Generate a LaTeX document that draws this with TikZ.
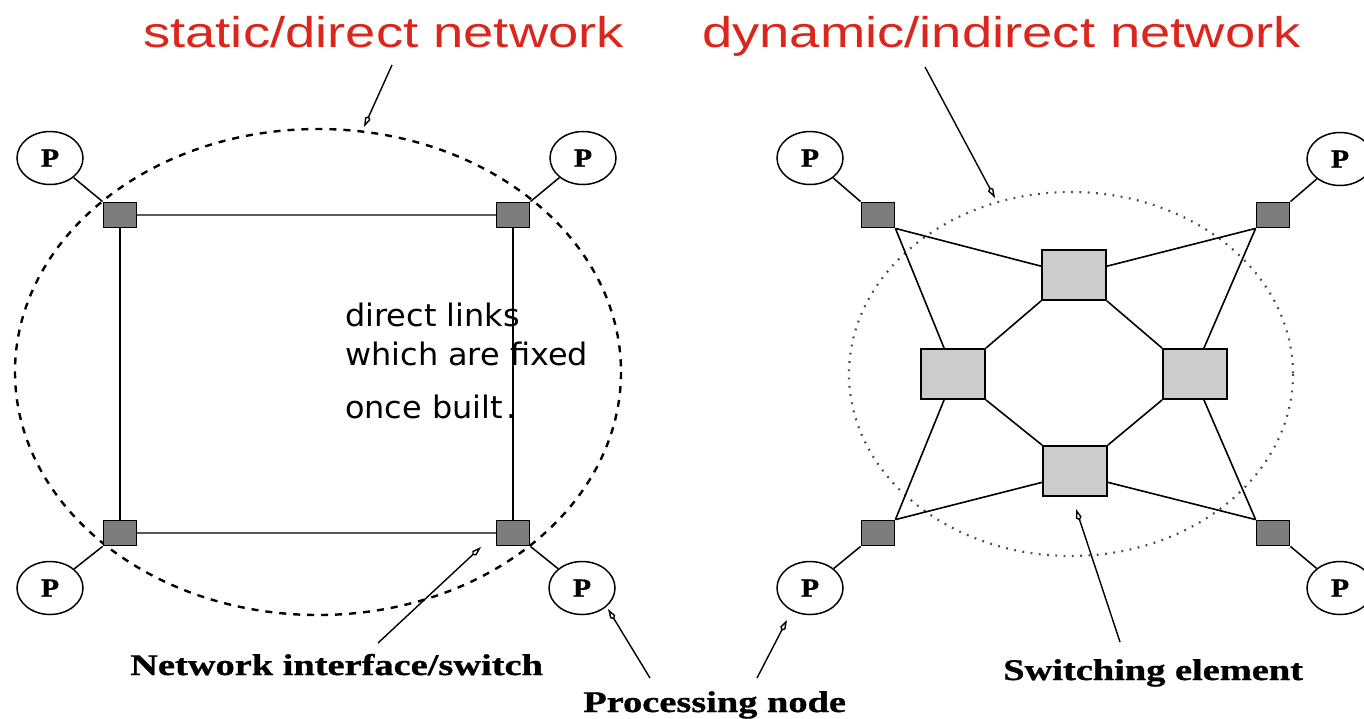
\documentclass[tikz,border=0pt]{standalone}
\usepackage{graphicx}
\usepackage{fontspec}
\setmainfont{Liberation Serif}
\newfontfamily\titlefont{Liberation Sans}
\newfontfamily\notefont{DejaVu Sans}
\newfontfamily\labelfont[FakeBold=0.8]{Liberation Serif Bold}
\usetikzlibrary{arrows.meta,shapes.geometric}
\definecolor{titlered}{RGB}{218,38,28}
\definecolor{swdark}{RGB}{125,125,125}
\definecolor{swlight}{RGB}{204,204,204}
\begin{document}
\begin{tikzpicture}[x=1pt,y=-1pt,
  pnode/.style={ellipse, draw, line width=1.5pt, minimum width=66pt, minimum height=53pt, inner sep=0pt, fill=white,
     font=\labelfont\fontsize{26}{26}\selectfont},
  swsmall/.style={draw, line width=1.8pt, fill=swdark, minimum width=33pt, minimum height=25pt, inner sep=0pt},
  swbig/.style={draw, line width=1.8pt, fill=swlight, minimum width=64pt, minimum height=50pt, inner sep=0pt},
  hlink/.style={line width=1.1pt, draw=black!65},
  vlink/.style={line width=1.5pt},
  link/.style={line width=1.6pt},
  plink/.style={line width=1.5pt},
  leader/.style={line width=1.4pt, -{Kite[open,length=12pt,width=6pt]}},
  titletext/.style={anchor=base west, text=titlered, font=\titlefont\fontsize{43}{43}\selectfont, xscale=1.265, inner sep=0pt},
  labeltext/.style={anchor=base west, font=\labelfont\fontsize{30}{30}\selectfont, xscale=1.28, inner sep=0pt},
  notetext/.style={anchor=base west, font=\notefont\fontsize{31}{31}\selectfont, xscale=1.03, inner sep=0pt},
  dashring/.style={line width=2.4pt, dash pattern=on 7pt off 7pt},
  dotring/.style={line width=2.2pt, draw=black!70, dash pattern=on 1.8pt off 6.5pt}
]
\useasboundingbox (0,0) rectangle (1364,718);

% ---------- rings ----------
\draw[dashring] (318,372) ellipse [x radius=303, y radius=243];
\draw[dotring] (1071,374) ellipse [x radius=222, y radius=182];

% ---------- titles ----------
\node[titletext] (tstatic) at (143,47) {static/direct network};
\node[titletext] (tdynamic) at (702,47) {dynamic/indirect network};

% ---------- left: static/direct network ----------
\node[swsmall] (aTL) at (120,215) {};
\node[swsmall] (aTR) at (513,215) {};
\node[swsmall] (aBL) at (120,533) {};
\node[swsmall] (aBR) at (513,533) {};
\node[pnode] (paTL) at (50,158) {\scalebox{1.15}[1]{P}};
\node[pnode] (paTR) at (583,158) {\scalebox{1.15}[1]{P}};
\node[pnode] (paBL) at (50,588) {\scalebox{1.15}[1]{P}};
\node[pnode] (paBR) at (582,588) {\scalebox{1.15}[1]{P}};

\draw[hlink] (aTL) -- (aTR);
\draw[hlink] (aBL) -- (aBR);
\draw[vlink] (aTL) -- (aBL);
\draw[vlink] (aTR) -- (aBR);
\draw[plink] (paTL) -- (aTL.north west);
\draw[plink] (paTR) -- (aTR.north east);
\draw[plink] (paBL) -- (aBL.south west);
\draw[plink] (paBR) -- (aBR.south east);

\node[notetext] (n1) at (345,326) {direct links};
\node[notetext] (n2) at (345,365) {which are fixed};
\node[notetext] (n3) at (345,418) {once built\kern3pt.};

% ---------- right: dynamic/indirect network ----------
\node[swsmall] (bTL) at (878,215) {};
\node[swsmall] (bTR) at (1273,215) {};
\node[swsmall] (bBL) at (878,533) {};
\node[swsmall] (bBR) at (1273,533) {};
\node[pnode] (pbTL) at (810,158) {\scalebox{1.15}[1]{P}};
\node[pnode] (pbTR) at (1340,159) {\scalebox{1.15}[1]{P}};
\node[pnode] (pbBL) at (810,588) {\scalebox{1.15}[1]{P}};
\node[pnode] (pbBR) at (1340,588) {\scalebox{1.15}[1]{P}};

\node[swbig] (eT) at (1074,275) {};
\node[swbig] (eL) at (953,374) {};
\node[swbig] (eR) at (1195,374) {};
\node[swbig] (eB) at (1075,471) {};

\draw[plink] (pbTL) -- (bTL.north west);
\draw[plink] (pbTR) -- (bTR.north east);
\draw[plink] (pbBL) -- (bBL.south west);
\draw[plink] (pbBR) -- (bBR.south east);

\draw[link] (bTL.south east) -- (eT.165);
\draw[link] (bTL.south east) -- (eL.109);
\draw[link] (bTR.south west) -- (eT.15);
\draw[link] (bTR.south west) -- (eR.71);
\draw[link] (bBL.north east) -- (eL.251);
\draw[link] (bBL.north east) -- (eB.199);
\draw[link] (bBR.north west) -- (eR.289);
\draw[link] (bBR.north west) -- (eB.341);
\draw[link] (eT.south west) -- (eL.north east);
\draw[link] (eT.south east) -- (eR.north west);
\draw[link] (eL.south east) -- (eB.north west);
\draw[link] (eR.south west) -- (eB.north east);

% ---------- labels ----------
\node[labeltext] (lnet) at (130,675) {Network interface/switch};
\node[labeltext] (lproc) at (583,712) {Processing node};
\node[labeltext] (lsw) at (1003,680) {Switching element};

% ---------- leaders ----------
\coordinate (tailS) at (392,65);
\coordinate (tipS) at (364,127);
\coordinate (tailD) at (925,67);
\coordinate (tipD) at (995,198);
\coordinate (tailN) at (378,643);
\coordinate (tipN) at (481,547);
\coordinate (tailP1) at (650,678);
\coordinate (tipP1) at (608,609);
\coordinate (tailP2) at (757,678);
\coordinate (tipP2) at (787,620);
\coordinate (tailE) at (1120,642);
\coordinate (tipE) at (1076,509);
\draw[leader] (tailS) -- (tipS);
\draw[leader] (tailD) -- (tipD);
\draw[leader] (tailN) -- (tipN);
\draw[leader] (tailP1) -- (tipP1);
\draw[leader] (tailP2) -- (tipP2);
\draw[leader] (tailE) -- (tipE);
\end{tikzpicture}
\end{document}
